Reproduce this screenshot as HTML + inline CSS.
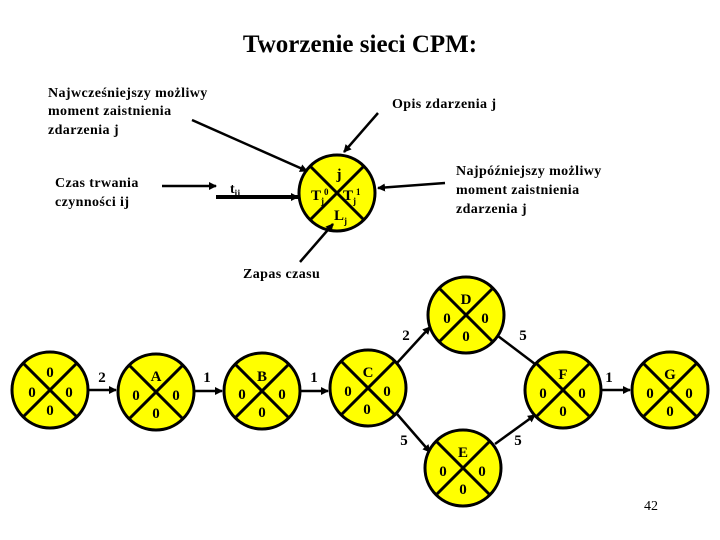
<!DOCTYPE html>
<html><head><meta charset="utf-8"><style>
body{margin:0;background:#fff}
svg{display:block}
text{font-family:"Liberation Serif",serif;fill:#000}
.d{font-size:14px;letter-spacing:0.4px;font-weight:bold}
.n{font-size:15px;text-anchor:middle;font-weight:bold}
</style></head><body>
<svg width="720" height="540" viewBox="0 0 720 540" xmlns="http://www.w3.org/2000/svg">
<defs>
<marker id="a" markerWidth="8" markerHeight="8" refX="7" refY="4" orient="auto" markerUnits="userSpaceOnUse">
<path d="M0,0 L8,4 L0,8 z" fill="#000"/></marker>
<g id="c"><circle r="38" fill="#ff0" stroke="#000" stroke-width="3"/>
<line x1="-27" y1="-27" x2="27" y2="27" stroke="#000" stroke-width="3"/>
<line x1="27" y1="-27" x2="-27" y2="27" stroke="#000" stroke-width="3"/></g>
</defs>
<text x="360" y="52" font-size="25" font-weight="bold" text-anchor="middle">Tworzenie sieci CPM:</text>
<text class="d" x="48" y="97">Najwcześniejszy możliwy</text>
<text class="d" x="48" y="115">moment zaistnienia</text>
<text class="d" x="48" y="134">zdarzenia  j</text>
<text class="d" x="392" y="108">Opis zdarzenia  j</text>
<text class="d" x="55" y="187">Czas trwania</text>
<text class="d" x="55" y="206">czynności  ij</text>
<text class="d" x="456" y="175">Najpóźniejszy możliwy</text>
<text class="d" x="456" y="194">moment zaistnienia</text>
<text class="d" x="456" y="213">zdarzenia  j</text>
<text class="d" x="243" y="278">Zapas czasu</text>
<use href="#c" x="337" y="193"/>
<g stroke="#000" stroke-width="2.5" fill="none">
<line x1="192" y1="120" x2="307" y2="171" marker-end="url(#a)"/>
<line x1="378" y1="113" x2="344" y2="152" marker-end="url(#a)"/>
<line x1="445" y1="183" x2="378" y2="188" marker-end="url(#a)"/>
<line x1="162" y1="186" x2="216" y2="186" marker-end="url(#a)"/>
<line x1="216" y1="197" x2="298" y2="197" stroke-width="4" marker-end="url(#a)"/>
<line x1="300" y1="262" x2="333" y2="224" marker-end="url(#a)"/>
</g>
<text x="230" y="193" font-size="14" font-weight="bold">t<tspan font-size="9" dy="3">ij</tspan></text>
<text class="n" x="339" y="179">j</text>
<text x="311" y="200" font-size="15" font-weight="bold">T<tspan font-size="9" dy="4">j</tspan><tspan font-size="9" dy="-9">0</tspan></text>
<text x="343" y="200" font-size="15" font-weight="bold">T<tspan font-size="9" dy="4">j</tspan><tspan font-size="9" dy="-9">1</tspan></text>
<text x="334" y="220" font-size="15" font-weight="bold">L<tspan font-size="9" dy="4">j</tspan></text>

<g stroke="#000" stroke-width="2.5" fill="none">
<line x1="89" y1="390" x2="116" y2="390" marker-end="url(#a)"/>
<line x1="195" y1="391" x2="222" y2="391" marker-end="url(#a)"/>
<line x1="301" y1="391" x2="328" y2="391" marker-end="url(#a)"/>
<line x1="397" y1="363" x2="430" y2="327" marker-end="url(#a)"/>
<line x1="494" y1="333" x2="535" y2="364"/>
<line x1="397" y1="414" x2="430" y2="452" marker-end="url(#a)"/>
<line x1="495" y1="444" x2="535" y2="415" marker-end="url(#a)"/>
<line x1="602" y1="390" x2="630" y2="390" marker-end="url(#a)"/>
</g>
<text class="n" x="102" y="382">2</text>
<text class="n" x="207" y="382">1</text>
<text class="n" x="314" y="382">1</text>
<text class="n" x="406" y="340">2</text>
<text class="n" x="523" y="340">5</text>
<text class="n" x="404" y="445">5</text>
<text class="n" x="518" y="445">5</text>
<text class="n" x="609" y="382">1</text>

<g>
<use href="#c" x="50" y="390"/><text class="n" x="50" y="377">0</text><text class="n" x="32" y="397">0</text><text class="n" x="69" y="397">0</text><text class="n" x="50" y="415">0</text>
<use href="#c" x="156" y="392"/><text class="n" x="156" y="381">A</text><text class="n" x="136" y="400">0</text><text class="n" x="176" y="400">0</text><text class="n" x="156" y="418">0</text>
<use href="#c" x="262" y="391"/><text class="n" x="262" y="381">B</text><text class="n" x="242" y="399">0</text><text class="n" x="282" y="399">0</text><text class="n" x="262" y="417">0</text>
<use href="#c" x="368" y="388"/><text class="n" x="368" y="377">C</text><text class="n" x="348" y="396">0</text><text class="n" x="387" y="396">0</text><text class="n" x="367" y="414">0</text>
<use href="#c" x="466" y="315"/><text class="n" x="466" y="304">D</text><text class="n" x="447" y="323">0</text><text class="n" x="485" y="323">0</text><text class="n" x="466" y="341">0</text>
<use href="#c" x="463" y="468"/><text class="n" x="463" y="457">E</text><text class="n" x="443" y="476">0</text><text class="n" x="482" y="476">0</text><text class="n" x="463" y="494">0</text>
<use href="#c" x="563" y="390"/><text class="n" x="563" y="379">F</text><text class="n" x="543" y="398">0</text><text class="n" x="582" y="398">0</text><text class="n" x="563" y="416">0</text>
<use href="#c" x="670" y="390"/><text class="n" x="670" y="379">G</text><text class="n" x="650" y="398">0</text><text class="n" x="689" y="398">0</text><text class="n" x="670" y="416">0</text>
</g>
<text x="644" y="510" font-size="14">42</text>
</svg>
</body></html>
